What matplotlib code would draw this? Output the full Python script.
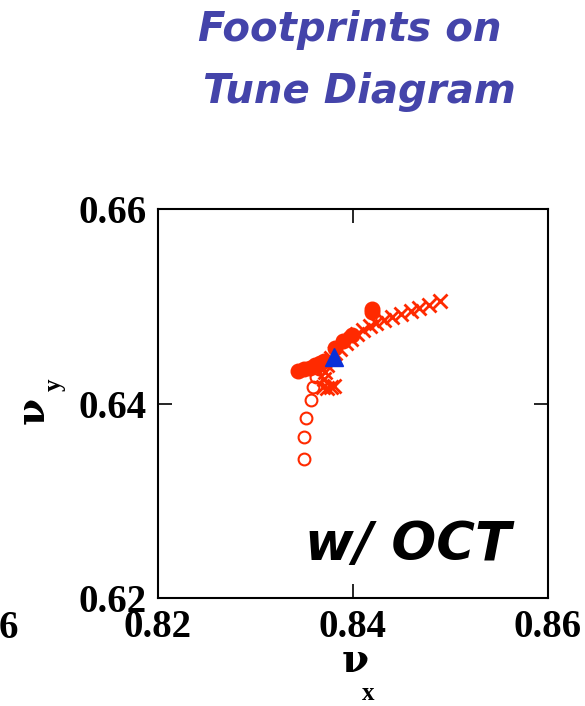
import matplotlib
matplotlib.use("Agg")
import matplotlib.pyplot as plt

# --- data ---
open_nux = [0.8350, 0.8350, 0.8352, 0.8357, 0.8359, 0.8362, 0.8365]
open_nuy = [0.6343, 0.6366, 0.6385, 0.6404, 0.6417, 0.6427, 0.6435]

filled_nux = [0.8344, 0.8350, 0.8356, 0.8361, 0.8366, 0.8370, 0.8382, 0.8390, 0.8399, 0.8419, 0.8419]
filled_nuy = [0.6433, 0.6435, 0.6437, 0.6440, 0.6442, 0.6444, 0.6457, 0.6464, 0.6470, 0.6494, 0.6497]

cross_nux = [0.8369, 0.8373, 0.8377, 0.8381, 0.8370, 0.8371, 0.8373, 0.8377, 0.8382,
             0.8387, 0.8393, 0.8398, 0.8404, 0.8410, 0.8417, 0.8424, 0.8432, 0.8440,
             0.8449, 0.8459, 0.8468, 0.8478, 0.8489]
cross_nuy = [0.6417, 0.6416, 0.6417, 0.6418, 0.6425, 0.6432, 0.6440, 0.6447, 0.6452,
             0.6456, 0.6462, 0.6466, 0.6471, 0.6476, 0.6480, 0.6483, 0.6486, 0.6489,
             0.6492, 0.6495, 0.6498, 0.6501, 0.6505]

tri_nux = [0.8381]
tri_nuy = [0.6448]

xticks = [0.82, 0.84, 0.86]
yticks = [0.62, 0.64, 0.66]

RED = "#ff2a00"
BLUE = "#0a30d8"

fig = plt.figure(figsize=(5.85, 7.06), dpi=100)
ax = fig.add_axes([158/585, 1-598/706, 390/585, 389/706])

ax.plot(open_nux, open_nuy, "o", ls="none", mfc="none", mec=RED, mew=1.5, ms=8.5)
ax.plot(cross_nux, cross_nuy, "x", ls="none", color=RED, mew=2.0, ms=10)
ax.plot(filled_nux, filled_nuy, "o", ls="none", color=RED, ms=10.5)
ax.plot(tri_nux, tri_nuy, "^", ls="none", color=BLUE, ms=13)

ax.set_xlim(0.82, 0.86)
ax.set_ylim(0.62, 0.66)
ax.set_xticks(xticks)
ax.set_yticks(yticks)
ax.set_xticklabels([f"{v:.2f}" for v in xticks])
ax.set_yticklabels([f"{v:.2f}" for v in yticks])
ax.tick_params(direction="in", length=10, width=1.2, top=True, right=True, pad=8)
for lab in ax.get_xticklabels() + ax.get_yticklabels():
    lab.set_fontfamily("Liberation Serif")
    lab.set_fontweight("bold")
    lab.set_fontsize(28)
for s in ax.spines.values():
    s.set_linewidth(1.5)

ax.text(305/585, 1-560/706, "w/ OCT", transform=fig.transFigure, fontsize=38,
        fontfamily="DejaVu Sans", fontweight="bold", fontstyle="oblique", color="black",
        va="baseline", ha="left")

# axis labels
fig.text(355/585, 1-661/706, "ν", fontfamily="DejaVu Serif", fontweight="bold",
         fontsize=28, ha="center", va="center")
fig.text(368/585, 1-694/706, "x", fontfamily="Liberation Serif", fontweight="bold",
         fontsize=18, ha="center", va="center")
fig.text(33/585, 1-410/706, "ν", fontfamily="DejaVu Serif", fontweight="bold",
         fontsize=28, ha="center", va="center", rotation=90)
fig.text(54/585, 1-385/706, "y", fontfamily="Liberation Serif", fontweight="bold",
         fontsize=18, ha="center", va="center", rotation=90)

# clipped neighbouring label
fig.text(8/585, 1-628/706, "6", fontfamily="Liberation Serif", fontweight="bold",
         fontsize=28, ha="center", va="center")

# title
TC = "#4444aa"
fig.text(350/585, 1-41/706, "Footprints on", fontfamily="DejaVu Sans", fontweight="bold",
         fontstyle="oblique", fontsize=29, color=TC, ha="center", va="baseline")
fig.text(359/585, 1-103/706, "Tune Diagram", fontfamily="DejaVu Sans", fontweight="bold",
         fontstyle="oblique", fontsize=29, color=TC, ha="center", va="baseline")

fig.savefig("out.png", dpi=100)
